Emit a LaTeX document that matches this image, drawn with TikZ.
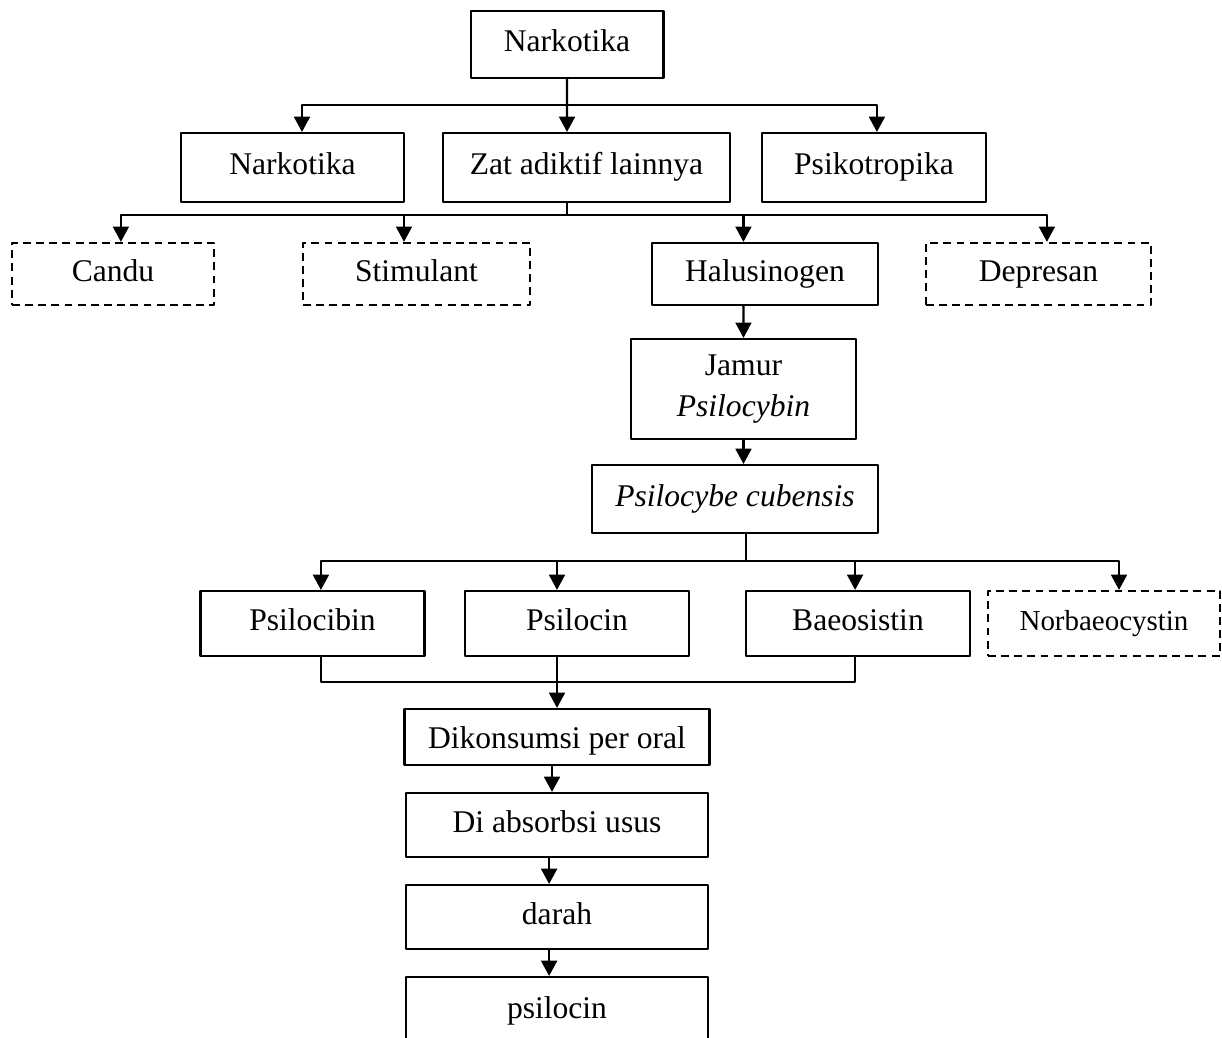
\documentclass[tikz,border=0pt]{standalone}
\usepackage{fontspec}
\setmainfont{Liberation Serif}
\usetikzlibrary{arrows.meta}
\begin{document}
\begin{tikzpicture}[x=0.38pt,y=-0.38pt,line join=round,
	font=\fontsize{12pt}{14.5pt}\selectfont,
	>={Triangle[length=5.8pt,width=6pt]},
	dasar/.style={draw,line width=0.8pt,inner sep=2pt,align=center},
	kotak/.style={dasar,minimum height=24.7pt,text height=8.5pt,text depth=3pt},
	putus/.style={kotak,dash pattern=on 3pt off 2pt},
	panah/.style={->,line width=0.9pt},
	garis/.style={line width=0.6pt}]
	\useasboundingbox (0,0) rectangle (1222,1038);
	% garis cabang
	\coordinate (busA) at (0,105);
	\coordinate (busB) at (0,215);
	\coordinate (busC) at (0,561);
	\coordinate (busD) at (0,682);
	\path 
	(567,44.5) node[kotak,minimum width=73.3pt,minimum height=25.5pt] (nk) {Narkotika}
	(292.5,167.5) node[kotak,minimum width=84.7pt,minimum height=26.2pt] (nk2) {Narkotika}
	(586.5,167.5) node[kotak,minimum width=109.1pt,minimum height=26.2pt] (zat) {Zat adiktif lainnya}
	(874,167.5) node[kotak,minimum width=85.1pt,minimum height=26.2pt] (psi) {Psikotropika}
	(113,274) node[putus,minimum width=76.8pt,minimum height=23.6pt] (cd) {Candu}
	(416.5,274) node[putus,minimum width=86.3pt,minimum height=23.6pt] (st) {Stimulant}
	(765,274) node[kotak,minimum width=85.9pt,minimum height=23.6pt] (ha) {Halusinogen}
	(1038.5,274) node[putus,minimum width=85.5pt,minimum height=23.6pt] (dp) {Depresan}
	(743.5,389) node[dasar,minimum width=85.5pt,minimum height=38pt,font=\fontsize{12pt}{15.8pt}\selectfont] (jm) {Jamur\\\textit{Psilocybin}}
	(735,499) node[kotak,minimum width=108.7pt,minimum height=25.8pt] (cb) {\textit{Psilocybe cubensis}}
	(312.5,623.5) node[kotak,minimum width=85.1pt] (p1) {Psilocibin}
	(577,623.5) node[kotak,minimum width=85.1pt] (p2) {Psilocin}
	(858,623.5) node[kotak,minimum width=85.1pt] (p3) {Baeosistin}
	(1104,623.5) node[putus,minimum width=88.2pt,font=\fontsize{11pt}{13pt}\selectfont] (p4) {Norbaeocystin}
	(557,737) node[kotak,minimum width=115.9pt,minimum height=21.3pt,text depth=0pt] (or) {Dikonsumsi per oral}
	(557,825) node[kotak,minimum width=114.8pt,minimum height=24.3pt] (us) {Di absorbsi usus}
	(557,917) node[kotak,minimum width=114.8pt,minimum height=24.3pt] (dr) {darah}
	(557,1011) node[kotak,minimum width=114.8pt,minimum height=25.8pt] (ps) {psilocin};
	% titik ujung panah
	\coordinate (nk2T) at ([xshift=3.6pt]nk2.north);
	\coordinate (zatT) at ([xshift=-7.4pt]zat.north);
	\coordinate (zatB) at ([xshift=-7.4pt]zat.south);
	\coordinate (psiT) at ([xshift=1.1pt]psi.north);
	\coordinate (cdT) at ([xshift=3pt]cd.north);
	\coordinate (stT) at ([xshift=-4.75pt]st.north);
	\coordinate (haT) at ([xshift=-8.2pt]ha.north);
	\coordinate (haB) at ([xshift=-8.2pt]ha.south);
	\coordinate (dpT) at ([xshift=3.2pt]dp.north);
	\coordinate (cbB) at ([xshift=4.2pt]cb.south);
	\coordinate (p1T) at ([xshift=3.2pt]p1.north);
	\coordinate (p1B) at ([xshift=3.2pt]p1.south);
	\coordinate (p2T) at ([xshift=-7.6pt]p2.north);
	\coordinate (p2B) at ([xshift=-7.6pt]p2.south);
	\coordinate (p3T) at ([xshift=-1.1pt]p3.north);
	\coordinate (p3B) at ([xshift=-1.1pt]p3.south);
	\coordinate (p4T) at ([xshift=5.7pt]p4.north);
	\draw[panah] (nk.south)--(zatT);
	\draw[panah] (nk.south |- busA) -| (nk2T);
	\draw[panah] (nk.south |- busA) -| (psiT);
	\draw[garis] (zatB)--(zatB |- busB);
	\draw[panah] (zatB |- busB) -| (cdT);
	\draw[panah] (zatB |- busB) -| (stT);
	\draw[panah] (zatB |- busB) -| (haT);
	\draw[panah] (zatB |- busB) -| (dpT);
	\draw[panah] (haB)--(jm.north);
	\draw[panah] (jm.south)--(jm.south |- cb.north);
	\draw[garis] (cbB)--(cbB |- busC);
	\draw[panah] (cbB |- busC) -| (p1T);
	\draw[panah] (cbB |- busC) -| (p2T);
	\draw[panah] (cbB |- busC) -| (p3T);
	\draw[panah] (cbB |- busC) -| (p4T);
	\draw[garis] (p1B) |- (p3B |- busD)--(p3B);
	\draw[panah] (p2B)--(p2B |- or.north);
	\draw[panah] ([xshift=-1.9pt]or.south)--([xshift=-1.9pt]us.north);
	\draw[panah] ([xshift=-3pt]us.south)--([xshift=-3pt]dr.north);
	\draw[panah] ([xshift=-3pt]dr.south)--([xshift=-3pt]ps.north);
\end{tikzpicture}
\end{document}
